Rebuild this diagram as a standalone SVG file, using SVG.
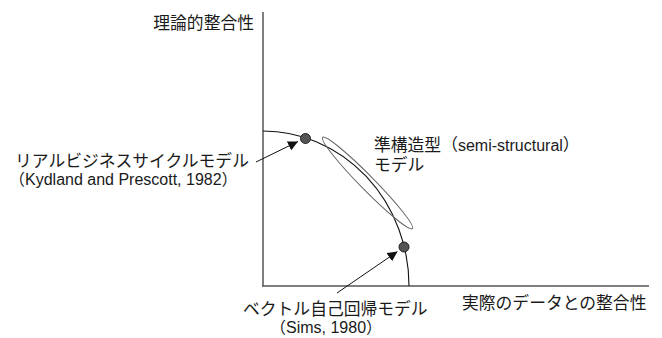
<svg xmlns="http://www.w3.org/2000/svg" width="662" height="338" viewBox="0 0 662 338">
  <style>
    .t { font-family: "Liberation Sans", "Noto Sans CJK JP", sans-serif; fill: #1a1a1a; }
    .jp { font-size: 16.8px; }
    .mx { font-size: 16px; }
    .axis { stroke: #555; stroke-width: 1.5; fill: none; }
    .curve { stroke: #111; stroke-width: 1.1; fill: none; }
    .conn { stroke: #111; stroke-width: 1; fill: none; }
    .dot { fill: #555; stroke: #222; stroke-width: 1; }
  </style>
  <defs>
    <marker id="ah" viewBox="0 0 10 10" refX="10" refY="5" markerWidth="10" markerHeight="10" markerUnits="userSpaceOnUse" orient="auto">
      <path d="M0,0 L10,5 L0,10 Z" fill="#111"/>
    </marker>
  </defs>
  <rect width="662" height="338" fill="#fff"/>

  <g id="axes">
    <line class="axis" x1="263" y1="12" x2="263" y2="286"/>
    <line class="axis" x1="262" y1="286" x2="649" y2="286"/>
  </g>

  <g id="frontier">
    <path class="curve" d="M263,131 A146,155 0 0 1 409,286"/>
  </g>

  <g id="semi-structural">
    <ellipse cx="367.5" cy="183" rx="64" ry="7" transform="rotate(45.5 367.5 183)" fill="none" stroke="#666" stroke-width="1"/>
    <text class="t" x="374" y="150.5"><tspan class="jp">準構造型（</tspan><tspan class="mx">semi-structural</tspan><tspan class="jp">）</tspan></text>
    <text class="t jp" x="374" y="170.5">モデル</text>
  </g>

  <g id="rbc">
    <circle class="dot" cx="305.5" cy="138.5" r="5"/>
    <text class="t jp" x="15" y="167">リアルビジネスサイクルモデル</text>
    <text class="t mx" x="9" y="184.5">（Kydland and Prescott, 1982）</text>
  </g>

  <g id="var">
    <circle class="dot" cx="404" cy="247" r="5"/>
    <text class="t jp" x="243" y="315">ベクトル自己回帰モデル</text>
    <text class="t mx" x="270" y="332.5">（Sims, 1980）</text>
  </g>

  <g id="labels">
    <text class="t jp" x="254" y="28.5" text-anchor="end">理論的整合性</text>
    <text class="t jp" x="462" y="308.5">実際のデータとの整合性</text>
  </g>

  <g id="connectors">
    <line class="conn" x1="256" y1="162" x2="298" y2="141.5" marker-end="url(#ah)"/>
    <line class="conn" x1="337" y1="293" x2="397.5" y2="251.5" marker-end="url(#ah)"/>
  </g>
</svg>
